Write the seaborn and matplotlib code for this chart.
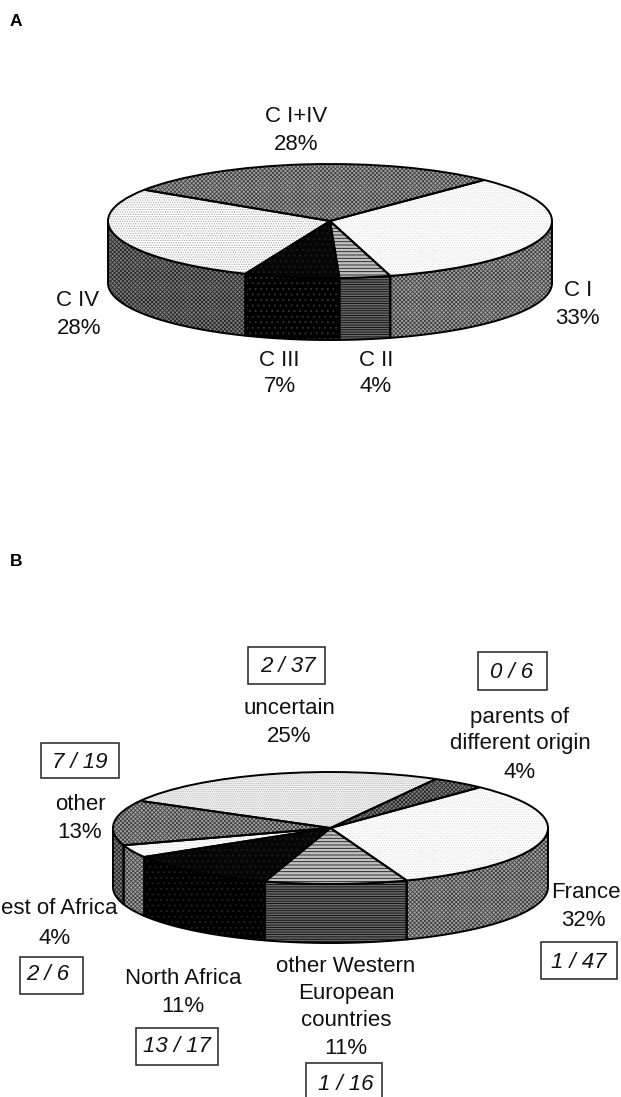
import numpy as np
import matplotlib
matplotlib.use("Agg")
import matplotlib.pyplot as plt
from matplotlib.patches import Rectangle
from matplotlib.transforms import Affine2D
import seaborn as sns

# ---- data ----
types_a = ["C I", "C II", "C III", "C IV", "C I+IV"]
shares_a = [33.4, 3.7, 6.9, 28.0, 28.0]
origins_b = ["France", "other Western European countries", "North Africa", "est of Africa",
             "other", "uncertain", "parents of different origin"]
shares_b = [32.25, 10.56, 11.49, 3.65, 13.05, 25.0, 4.0]
ratios_b = ["1 / 47", "1 / 16", "13 / 17", "2 / 6", "7 / 19", "2 / 37", "0 / 6"]

# ---- styles: (face, hatch colour, hatch) ----
WHITE_DOT = ("#ffffff", "#dcdcdc", "." * 7)
LIGHT_DOT = ("#ffffff", "#a8a8a8", "." * 7)
PALE_DOT = ("#f4f4f4", "#b4b4b4", "." * 8)
MID_CHECK = ("#a4a4a4", "#404040", "x" * 8)
DARK_CHECK = ("#808080", "#282828", "x" * 8)
LINES = ("#c0c0c0", "#181818", "-" * 5)
DARK_LINES = ("#686868", "#080808", "-" * 7)
BLACK = ("#060606", "#202020", "." * 3)
BLACK_DOT = ("#000000", "#383838", "." * 3)
BLACK_FINE = ("#000000", "#262626", "." * 3)

top_a = [WHITE_DOT, LINES, BLACK, LIGHT_DOT, MID_CHECK]
side_a = [MID_CHECK, DARK_LINES, BLACK_DOT, DARK_CHECK, DARK_CHECK]
top_b = [WHITE_DOT, LINES, BLACK, WHITE_DOT, MID_CHECK, PALE_DOT, DARK_CHECK]
side_b = [MID_CHECK, DARK_LINES, BLACK_FINE, MID_CHECK, DARK_CHECK, DARK_CHECK, DARK_CHECK]

W, H = 621, 1097
sns.set_theme(style="white")
plt.rcParams["font.family"] = ["Liberation Sans", "DejaVu Sans"]
plt.rcParams["hatch.linewidth"] = 0.6
fig = plt.figure(figsize=(W / 100, H / 100), dpi=100, facecolor="white")
px = Affine2D().scale(1 / W, -1 / H).translate(0, 1) + fig.transFigure
LW = 1.4
FS = 16


def pct(v):
    return f"{round(v)}%"


def pie3d(values, start, tops, sides, cx, cy, a, b, depth):
    d = depth / b
    ax = fig.add_axes([(cx - 1.25 * a) / W, 1 - (cy + (1.25 + d) * b) / H, 2.5 * a / W, (2.5 + d) * b / H])
    # walls of the front half, driven by the wedge angles
    fractions = np.asarray(values, float) / np.sum(values)
    edges = start - 360 * np.concatenate([[0], np.cumsum(fractions)])
    for hi, lo, (face, hc, hatch) in zip(edges[:-1], edges[1:], sides):
        for offset in (-360, 0):
            t0, t1 = max(lo + offset, -180), min(hi + offset, 0)
            if t1 <= t0:
                continue
            t = np.radians(np.linspace(t0, t1, 100))
            x, y = np.cos(t), np.sin(t)
            ax.fill_between(x, y, y - d, facecolor=face, edgecolor=hc, hatch=hatch, linewidth=0, zorder=1)
            ax.fill_between(x, y, y - d, facecolor="none", edgecolor="black", linewidth=LW, zorder=2)
    wedges, _ = ax.pie(values, startangle=start, counterclock=False, radius=1)
    for w, (face, hc, hatch) in zip(wedges, tops):
        w.set(facecolor=face, edgecolor=hc, hatch=hatch, linewidth=0, zorder=3)
    outlines, _ = ax.pie(values, startangle=start, counterclock=False, radius=1)
    for w in outlines:
        w.set(facecolor="none", edgecolor="black", linewidth=LW, zorder=4)
    ax.set_aspect("auto")
    ax.set_xlim(-1.25, 1.25)
    ax.set_ylim(-1.25 - d, 1.25)
    ax.patch.set_alpha(0)
    sns.despine(ax=ax, left=True, bottom=True)
    return ax


pie3d(shares_a, 46, top_a, side_a, 330, 221, 222, 57, 62)
pie3d(shares_b, 46.6, top_b, side_b, 330.5, 828, 217.5, 56, 59)


def label(x, y, s, **kw):
    kw.setdefault("fontsize", FS)
    fig.text(x, y + 1, s, transform=px, ha="center", va="center", color="#111111", **kw)


def boxed(x0, y0, x1, y1, tx, ty, s):
    fig.add_artist(Rectangle((x0, y0), x1 - x0, y1 - y0, transform=px, facecolor="white",
                             edgecolor="#222222", linewidth=1.1))
    label(tx, ty + 2, s, fontstyle="italic")


for x, y, s in [(10, 21, "A"), (10, 561, "B")]:
    fig.text(x, y, s, transform=px, ha="left", va="center", fontsize=12.5, fontweight="bold", color="black")

for x, y, s in [
    (296, 116, types_a[4]), (296, 144, pct(shares_a[4])),
    (578, 290, types_a[0]), (577, 317, pct(shares_a[0])),
    (376, 360, types_a[1]), (376, 386, pct(shares_a[1])),
    (279, 360, types_a[2]), (280, 386, pct(shares_a[2])),
    (78, 300, types_a[3]), (79, 327, pct(shares_a[3])),
    (289, 708, origins_b[5]), (289, 736, pct(shares_b[5])),
    (520, 716, "parents of"), (520, 743, "different origin"), (520, 771, pct(shares_b[6])),
    (80, 804, origins_b[4]), (80, 832, pct(shares_b[4])),
    (586, 892, origins_b[0]), (583, 920, pct(shares_b[0])),
    (59, 908, origins_b[3]), (55, 937, pct(shares_b[3])),
    (183, 977, origins_b[2]), (183, 1005, pct(shares_b[2])),
    (346, 965, "other Western"), (346, 992, "European"), (346, 1020, "countries"), (346, 1048, pct(shares_b[1])),
]:
    label(x, y, s)

for box, s in zip([(541, 942, 617, 979, 579, 959), (306, 1063, 382, 1110, 346, 1082),
                   (136, 1028, 218, 1065, 177, 1043), (20, 957, 83, 994, 47.5, 972),
                   (41, 743, 119, 778, 80, 759), (248, 647, 325, 684, 288, 664),
                   (478, 652, 547, 690, 512, 670)], ratios_b):
    boxed(*box, s)

fig.savefig("out.png", dpi=100)
